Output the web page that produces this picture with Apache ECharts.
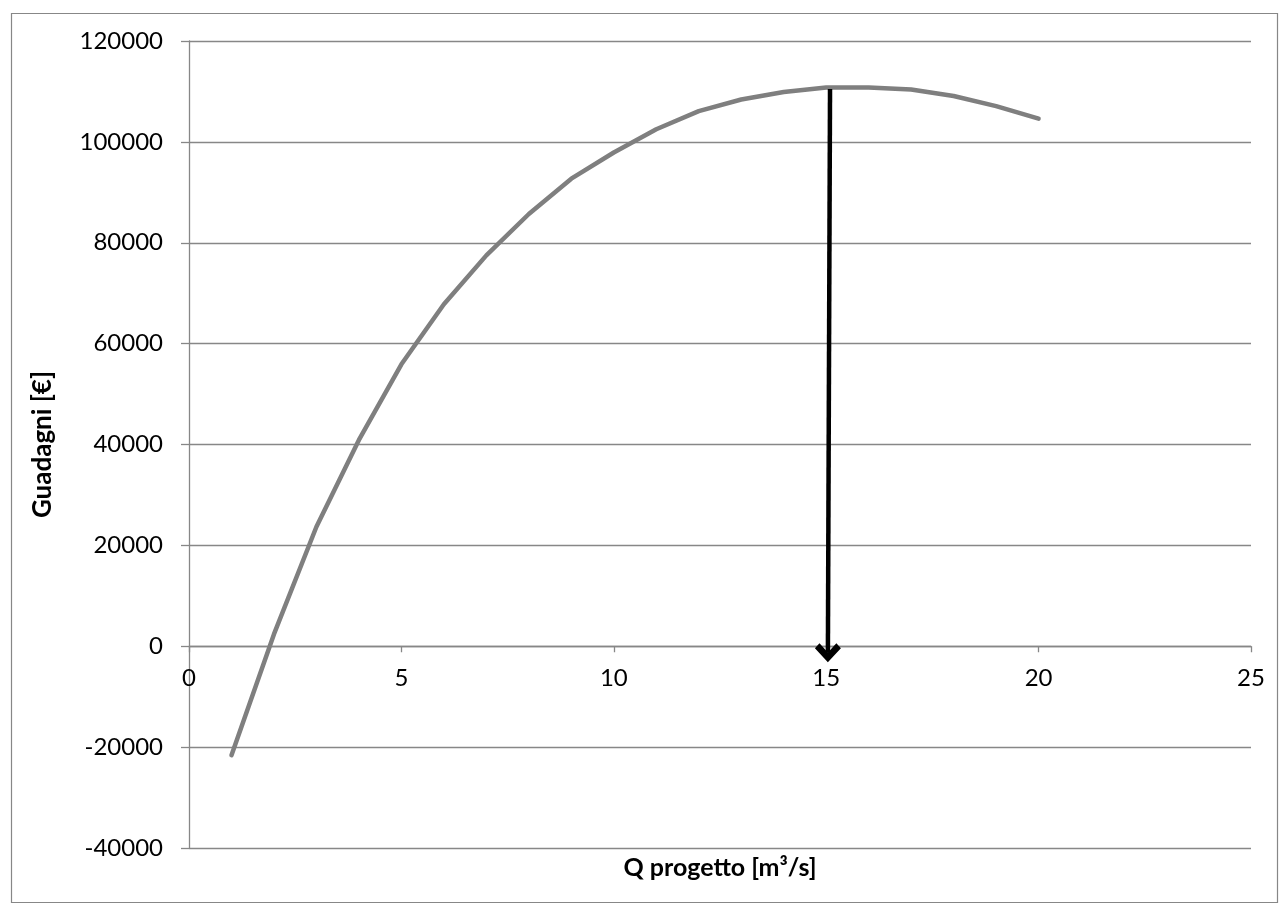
<!DOCTYPE html>
<html>
<head>
<meta charset="utf-8">
<script src="https://cdn.jsdelivr.net/npm/echarts@6/dist/echarts.min.js"></script>
<style>
  html, body { margin: 0; padding: 0; background: #fff; }
  #chart { width: 1284px; height: 911px; }
</style>
</head>
<body>
<div id="chart"></div>
<script>
// --- Data ---
const qValues = [1, 2, 3, 4, 5, 6, 7, 8, 9, 10, 11, 12, 13, 14, 15, 16, 17, 18, 19, 20];
const gains = [-21600, 2400, 23700, 40900, 55900, 67800, 77500, 85700, 92700, 97900,
    102500, 106100, 108400, 109900, 110800, 110800, 110400, 109100, 107100, 104600];
const arrowFrom = [15.09, 110500];
const arrowTo = [15.04, -1300];

const xTitle = 'Q progetto [m³/s]';
const yTitle = 'Guadagni [€]';

const Y_MIN = -40000, Y_MAX = 120000, Y_STEP = 20000;
const X_MIN = 0, X_MAX = 25, X_STEP = 5;

// --- Styles ---
const FONT = 'Lato';
const GRID_GRAY = '#878787';
const LINE_GRAY = '#7f7f7f';
const chevron = 'path://M10,0 L20,10 L16.5,13.5 L10,7 L3.5,13.5 L0,10 Z';

// plot box; a second grid ends at y = 0 so the x axis sits on the zero line
const PLOT = { left: 189, top: 41, width: 1062, height: 807 };
const zeroHeight = PLOT.height * Y_MAX / (Y_MAX - Y_MIN);

const chart = echarts.init(document.getElementById('chart'), null, { renderer: 'canvas' });

chart.setOption({
    animation: false,
    backgroundColor: '#fff',
    textStyle: { fontFamily: FONT },
    graphic: [{
        type: 'rect', left: 9, top: 11, silent: true,
        shape: { width: 1266, height: 889 },
        style: { fill: 'none', stroke: GRID_GRAY, lineWidth: 1.2 },
    }, {
        type: 'text', x: 720, y: 868, silent: true,
        style: {
            text: xTitle, fill: '#000', font: 'bold 25px ' + FONT,
            align: 'center', verticalAlign: 'middle',
        },
    }],
    grid: [
        { ...PLOT },
        { left: PLOT.left, top: PLOT.top, width: PLOT.width, height: zeroHeight },
    ],
    xAxis: [{
        gridIndex: 0, type: 'value', min: X_MIN, max: X_MAX, interval: X_STEP,
        axisLine: { show: false }, axisTick: { show: false },
        axisLabel: { show: false }, splitLine: { show: false },
    }, {
        gridIndex: 1, type: 'value', min: X_MIN, max: X_MAX, interval: X_STEP,
        axisLine: { onZero: false, lineStyle: { color: GRID_GRAY, width: 1.3 } },
        axisTick: { show: true, length: 6, lineStyle: { color: GRID_GRAY, width: 1.3 } },
        axisLabel: { color: '#000', fontSize: 24, margin: 20, fontFamily: FONT },
        splitLine: { show: false },
    }],
    yAxis: [{
        gridIndex: 0, type: 'value', min: Y_MIN, max: Y_MAX, interval: Y_STEP,
        axisLine: { show: true, onZero: false, lineStyle: { color: GRID_GRAY, width: 1.3 } },
        axisTick: { show: true, length: 8, lineStyle: { color: GRID_GRAY, width: 1.3 } },
        axisLabel: { color: '#000', fontSize: 24, margin: 26, fontFamily: FONT, formatter: v => String(v) },
        splitLine: { show: true, lineStyle: { color: GRID_GRAY, width: 1.3 } },
        name: yTitle, nameLocation: 'middle', nameGap: 133,
        nameTextStyle: { color: '#000', fontSize: 26, fontWeight: 'bold', fontFamily: FONT },
    }, {
        gridIndex: 1, type: 'value', min: 0, max: Y_MAX, show: false,
    }],
    series: [{
        type: 'line', xAxisIndex: 0, yAxisIndex: 0,
        data: qValues.map((q, i) => [q, gains[i]]),
        showSymbol: false, smooth: false,
        lineStyle: { color: LINE_GRAY, width: 4.5, cap: 'round', join: 'round' },
        markLine: {
            silent: true, animation: false,
            symbol: ['none', chevron], symbolSize: [26, 19],
            label: { show: false },
            lineStyle: { color: '#000', width: 4.5, type: 'solid' },
            itemStyle: { color: '#000' },
            data: [[{ coord: arrowFrom }, { coord: arrowTo }]],
        },
    }],
});
</script>
</body>
</html>
